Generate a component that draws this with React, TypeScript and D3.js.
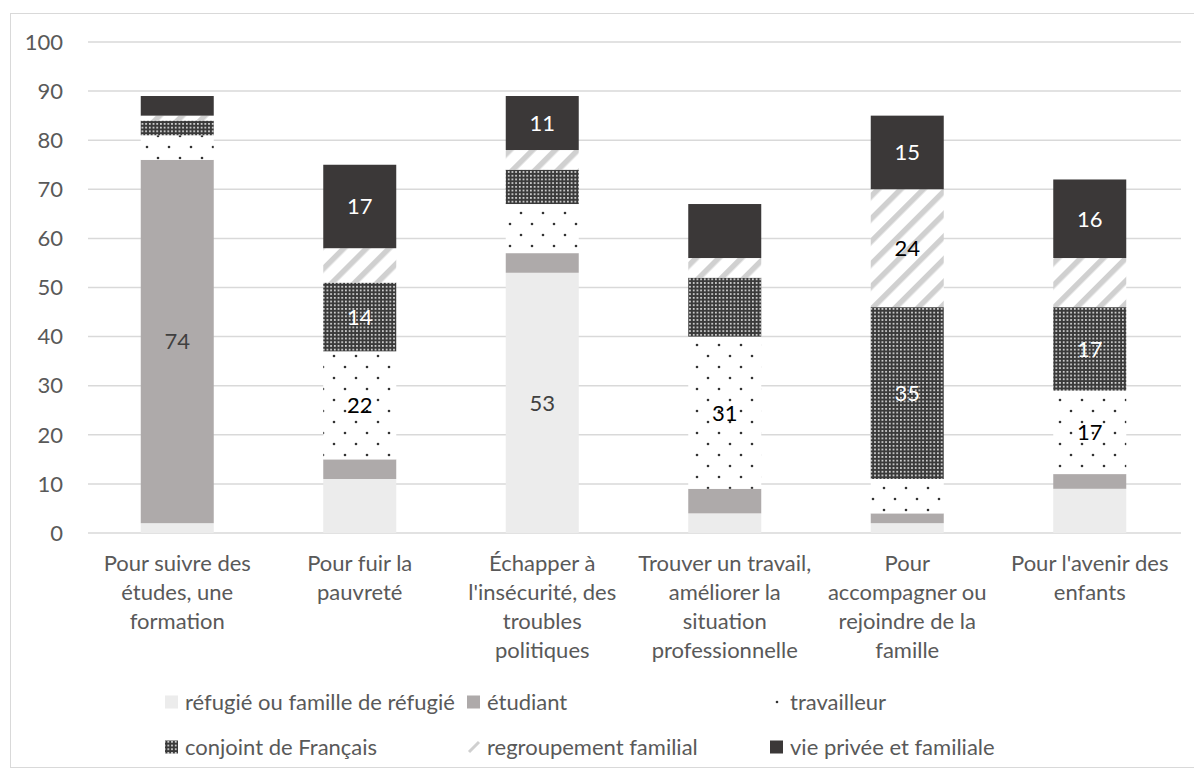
import * as d3 from "d3";

const categories = [
  ["Pour suivre des", "études, une", "formation"],
  ["Pour fuir la", "pauvreté"],
  ["Échapper à", "l'insécurité, des", "troubles", "politiques"],
  ["Trouver un travail,", "améliorer la", "situation", "professionnelle"],
  ["Pour", "accompagner ou", "rejoindre de la", "famille"],
  ["Pour l'avenir des", "enfants"],
];

const seriesNames = [
  "réfugié ou famille de réfugié",
  "étudiant",
  "travailleur",
  "conjoint de Français",
  "regroupement familial",
  "vie privée et familiale",
];

const refugie = [2, 11, 53, 4, 2, 9];
const etudiant = [74, 4, 4, 5, 2, 3];
const travailleur = [5, 22, 10, 31, 7, 17];
const conjoint = [3, 14, 7, 12, 35, 17];
const regroupement = [1, 7, 4, 4, 24, 10];
const viePrivee = [4, 17, 11, 11, 15, 16];

// which segments carry a data label
const labelRefugie = [false, false, true, false, false, false];
const labelEtudiant = [true, false, false, false, false, false];
const labelTravailleur = [false, true, false, true, false, true];
const labelConjoint = [false, true, false, false, true, true];
const labelRegroupement = [false, false, false, false, true, false];
const labelViePrivee = [false, true, true, false, true, true];

const yTicks = [0, 10, 20, 30, 40, 50, 60, 70, 80, 90, 100];

const values = [refugie, etudiant, travailleur, conjoint, regroupement, viePrivee];
const labels = [labelRefugie, labelEtudiant, labelTravailleur, labelConjoint, labelRegroupement, labelViePrivee];
const fills = ["#ececec", "#aeaaaa", "url(#pDots)", "url(#pGrid)", "url(#pDiag)", "#3b3838"];
const labelColors = ["#404040", "#404040", "#000000", "#ffffff", "#000000", "#ffffff"];

const FONT = "Lato, 'Open Sans', sans-serif";
const FS = 22;

export default function App() {
  const W = 1194;
  const H = 776;
  const x = d3.scaleBand<number>().domain(d3.range(categories.length)).range([86, 1181]).paddingInner(0.6).paddingOuter(0.3);
  const y = d3.scaleLinear().domain([0, 100]).range([533, 42]);

  const rows = categories.map((_, i) => {
    const obj: any = {};
    values.forEach((v, s) => (obj[s] = v[i]));
    return obj;
  });
  const stack = d3.stack<any>().keys(d3.range(values.length) as any)(rows);

  const legendCols = [165, 467, 770];
  const legendRows = [702, 747];

  return (
    <svg width={W} height={H} style={{ position: "absolute", left: 0, top: 0, background: "#fff" }} fontFamily={FONT}>
      <defs>
        <pattern id="pDots" width="22" height="22" patternUnits="userSpaceOnUse">
          <rect width="22" height="22" fill="#fff" />
          <circle cx="4" cy="4" r="1.3" fill="#333" />
          <circle cx="15" cy="15" r="1.3" fill="#333" />
        </pattern>
        <pattern id="pGrid" width="3.7" height="3.7" patternUnits="userSpaceOnUse">
          <rect width="3.7" height="3.7" fill="#3a3a3a" />
          <rect x="1" y="1" width="1.6" height="1.6" fill="#f2f2f2" />
        </pattern>
        <pattern id="pDiag" width="16" height="16" patternUnits="userSpaceOnUse" patternTransform="rotate(45)">
          <rect width="16" height="16" fill="#fff" />
          <rect x="0" y="0" width="5.5" height="16" fill="#d0d0d0" />
        </pattern>
      </defs>
      <rect x={10.5} y={13.5} width={1200} height={754} fill="#fff" stroke="#d9d9d9" strokeWidth={1} />

      {yTicks.map((t) => (
        <g key={t}>
          <line x1={88} x2={1181} y1={y(t)} y2={y(t)} stroke="#d9d9d9" strokeWidth={1.5} />
          <text x={63} y={y(t)} dy="0.35em" textAnchor="end" fontSize={FS} fill="#595959">
            {t}
          </text>
        </g>
      ))}

      {stack.map((layer, s) => (
        <g key={s}>
          {layer.map((d, i) => (
            <rect
              key={i}
              x={x(i)}
              width={x.bandwidth()}
              y={y(d[1])}
              height={y(d[0]) - y(d[1])}
              fill={fills[s]}
            />
          ))}
        </g>
      ))}

      {stack.map((layer, s) => (
        <g key={"l" + s}>
          {layer.map((d, i) =>
            labels[s][i] ? (
              <text
                key={i}
                x={(x(i) as number) + x.bandwidth() / 2}
                y={(y(d[0]) + y(d[1])) / 2}
                dy="0.36em"
                textAnchor="middle"
                fontSize={FS}
                fill={labelColors[s]}
              >
                {values[s][i]}
              </text>
            ) : null
          )}
        </g>
      ))}

      {categories.map((lines, i) => (
        <text key={i} textAnchor="middle" fontSize={FS} fill="#595959">
          {lines.map((ln, k) => (
            <tspan key={k} x={(x(i) as number) + x.bandwidth() / 2} y={571 + k * 29}>
              {ln}
            </tspan>
          ))}
        </text>
      ))}

      {seriesNames.map((name, s) => {
        const cx = legendCols[s % 3];
        const cy = legendRows[Math.floor(s / 3)];
        let sw;
        if (s === 2) sw = <circle cx={cx + 7} cy={cy} r={1.3} fill="#333" />;
        else if (s === 4) sw = <line x1={cx + 2} y1={cy + 5} x2={cx + 12} y2={cy - 5} stroke="#d0d0d0" strokeWidth={3} />;
        else sw = <rect x={cx} y={cy - 6.5} width={13} height={13} fill={fills[s]} />;
        return (
          <g key={s}>
            {sw}
            <text x={cx + 20} y={cy} dy="0.35em" fontSize={FS} fill="#595959">
              {name}
            </text>
          </g>
        );
      })}
    </svg>
  );
}
